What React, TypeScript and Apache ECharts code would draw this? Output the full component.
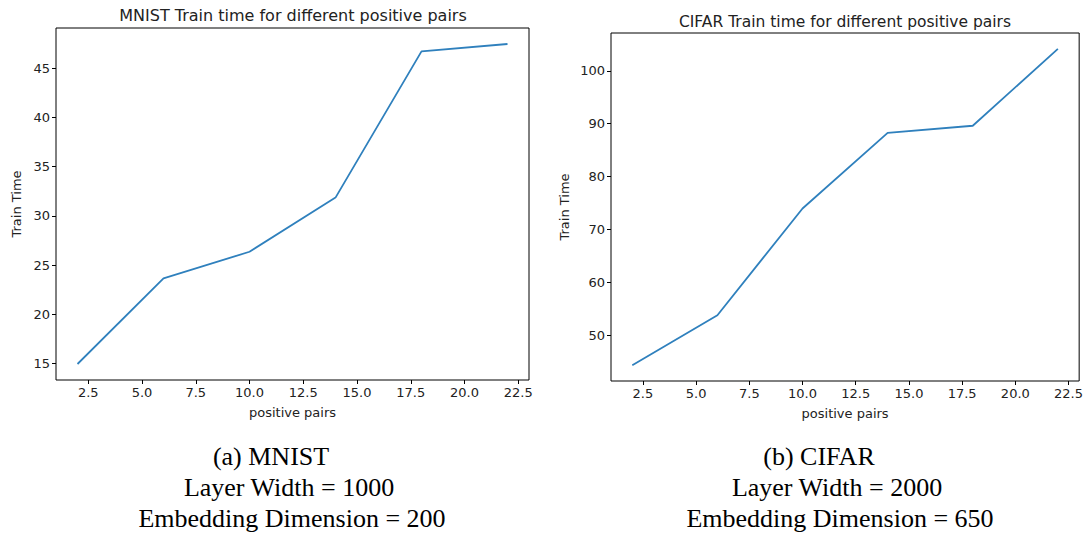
import React, { useEffect, useRef } from "react";
import * as echarts from "echarts";

const positivePairs = [2, 6, 10, 14, 18, 22];
const mnistTrainTime = [14.95, 23.65, 26.35, 31.85, 46.7, 47.45];
const cifarTrainTime = [44.3, 53.75, 73.95, 88.25, 89.6, 104.15];
const xTicks = [2.5, 5, 7.5, 10, 12.5, 15, 17.5, 20, 22.5];
const mnistYTicks = [15, 20, 25, 30, 35, 40, 45];
const cifarYTicks = [50, 60, 70, 80, 90, 100];
const titles = [
  "MNIST Train time for different positive pairs",
  "CIFAR Train time for different positive pairs",
];
const captionsLeft = ["(a) MNIST", "Layer Width = 1000", "Embedding Dimension = 200"];
const captionsRight = ["(b) CIFAR", "Layer Width = 2000", "Embedding Dimension = 650"];

const FONT = "DejaVu Sans";
const TXT = "#222";

function pad(vals: number[]) {
  const mn = Math.min(...vals);
  const mx = Math.max(...vals);
  const m = (mx - mn) * 0.05;
  return [mn - m, mx + m];
}

export default function App() {
  const ref = useRef<HTMLDivElement>(null);
  useEffect(() => {
    if (!ref.current) return;
    const chart = echarts.init(ref.current, null, { renderer: "svg" });
    const [xmin, xmax] = pad(positivePairs);
    const [y1min, y1max] = pad(mnistTrainTime);
    const [y2min, y2max] = pad(cifarTrainTime);
    const grids = [
      { left: 56, top: 28, width: 473, height: 352 },
      { left: 611, top: 33, width: 469, height: 348 },
    ];
    const xAxis = [0, 1].map((i) => ({
      type: "value",
      gridIndex: i,
      min: xmin,
      max: xmax,
      name: "positive pairs",
      nameLocation: "middle",
      nameGap: 26,
      nameTextStyle: { fontFamily: FONT, fontSize: 13, color: TXT },
      axisLine: { show: false },
      splitLine: { show: false },
      axisTick: {
        show: true,
        length: 4,
        customValues: xTicks,
        lineStyle: { color: "#000", width: 1 },
      },
      axisLabel: {
        customValues: xTicks,
        formatter: (v: number) => v.toFixed(1),
        fontFamily: FONT,
        fontSize: 13,
        color: TXT,
        margin: 6,
      },
    }));
    const yAxis = [
      { ticks: mnistYTicks, min: y1min, max: y1max, gap: 33 },
      { ticks: cifarYTicks, min: y2min, max: y2max, gap: 40 },
    ].map((c, i) => ({
      type: "value",
      gridIndex: i,
      min: c.min,
      max: c.max,
      name: "Train Time",
      nameLocation: "middle",
      nameGap: c.gap,
      nameTextStyle: { fontFamily: FONT, fontSize: 13, color: TXT },
      axisLine: { show: false },
      splitLine: { show: false },
      axisTick: {
        show: true,
        length: 4,
        customValues: c.ticks,
        lineStyle: { color: "#000", width: 1 },
      },
      axisLabel: {
        customValues: c.ticks,
        fontFamily: FONT,
        fontSize: 13,
        color: TXT,
        margin: 6,
      },
    }));
    const captionX = [
      [271, 289, 292],
      [819, 837, 840],
    ];
    const captionGraphics: any[] = [];
    [captionsLeft, captionsRight].forEach((lines, ci) => {
      lines.forEach((t, li) => {
        captionGraphics.push({
          type: "text",
          x: captionX[ci][li],
          y: 456 + li * 31,
          style: {
            text: t,
            fill: "#000",
            font: "26px 'Liberation Serif'",
            textAlign: "center",
            textVerticalAlign: "middle",
          },
        });
      });
    });
    chart.setOption({
      animation: false,
      backgroundColor: "#fff",
      title: [
        {
          text: titles[0],
          left: 292,
          top: 2,
          textAlign: "center",
          textStyle: { fontFamily: FONT, fontSize: 16, fontWeight: "normal", color: TXT },
        },
        {
          text: titles[1],
          left: 845,
          top: 9,
          textAlign: "center",
          textStyle: { fontFamily: FONT, fontSize: 15.5, fontWeight: "normal", color: TXT },
        },
      ].map((t, i) => ({ ...t, left: i === 0 ? 288 : 840 })),
      grid: grids.map((g) => ({
        ...g,
        show: true,
        borderColor: "#000",
        borderWidth: 1,
        backgroundColor: "transparent",
      })),
      xAxis,
      yAxis,
      series: [
        {
          type: "line",
          xAxisIndex: 0,
          yAxisIndex: 0,
          data: positivePairs.map((x, i) => [x, mnistTrainTime[i]]),
          showSymbol: false,
          lineStyle: { color: "#2f80bd", width: 1.8 },
        },
        {
          type: "line",
          xAxisIndex: 1,
          yAxisIndex: 1,
          data: positivePairs.map((x, i) => [x, cifarTrainTime[i]]),
          showSymbol: false,
          lineStyle: { color: "#2f80bd", width: 1.8 },
        },
      ],
      graphic: captionGraphics,
    });
    return () => chart.dispose();
  }, []);
  return (
    <div
      ref={ref}
      style={{ position: "fixed", left: 0, top: 0, width: 1086, height: 534, background: "#fff" }}
    />
  );
}
